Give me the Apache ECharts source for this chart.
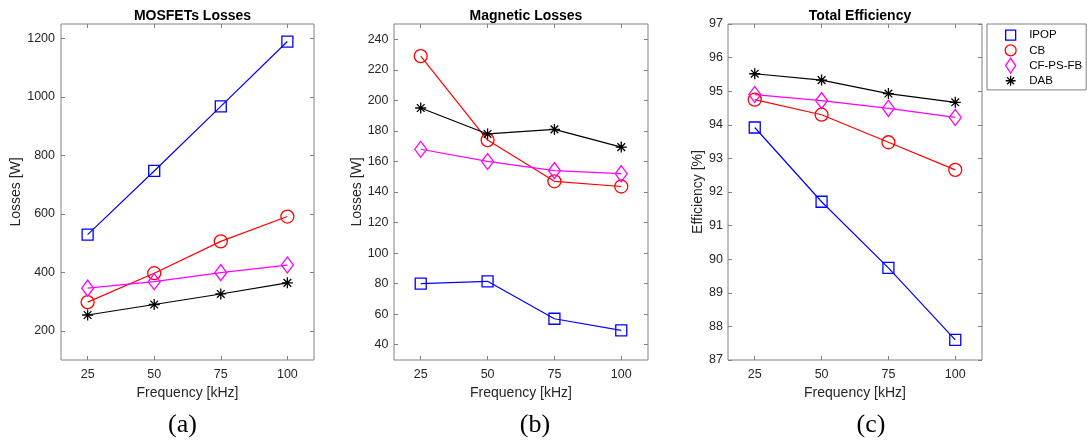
<!DOCTYPE html>
<html>
<head>
<meta charset="utf-8">
<script src="https://cdn.jsdelivr.net/npm/echarts@6/dist/echarts.min.js"></script>
<style>
html, body { margin: 0; padding: 0; background: #fff; }
#main { width: 1092px; height: 444px; }
</style>
</head>
<body>
<div id="main"></div>
<script>
// data
var freq = [25, 50, 75, 100];
var names = ['IPOP', 'CB', 'CF-PS-FB', 'DAB'];

var mosIPOP = [529, 747, 968, 1190];
var mosCB   = [298, 397, 506, 591];
var mosCF   = [346, 368, 399, 425];
var mosDAB  = [254, 290, 326, 364];

var magIPOP = [80, 81.5, 57, 49.4];
var magCB   = [229, 174, 147, 143.6];
var magCF   = [168, 160, 154, 152];
var magDAB  = [195, 178, 181, 169.4];

var effIPOP = [93.92, 91.71, 89.74, 87.6];
var effCB   = [94.75, 94.3, 93.48, 92.66];
var effCF   = [94.9, 94.72, 94.49, 94.22];
var effDAB  = [95.52, 95.33, 94.93, 94.67];

var xTicks = [25, 50, 75, 100];
var mosTicks = [200, 400, 600, 800, 1000, 1200];
var magTicks = [40, 60, 80, 100, 120, 140, 160, 180, 200, 220, 240];
var effTicks = [87, 88, 89, 90, 91, 92, 93, 94, 95, 96, 97];

var font = 'Liberation Sans, Arial, sans-serif';
var txt = '#262626';
var boxCol = '#808080';
var colors = ['#0000ff', '#ff0000', '#ff00ff', '#000000'];

var star = 'path://M5,0L5,10M0,5L10,5M1.5,1.5L8.5,8.5M1.5,8.5L8.5,1.5';
var symbols = ['rect', 'circle', 'diamond', star];
var symSizes = [11, 13, [12, 16], 11];

// legend icons (padded to 15x15 box)
var legIcons = [
	'path://M0,0M15,15M2.5,2.5L12.5,2.5L12.5,12.5L2.5,12.5Z',
	'path://M0,0M15,15M2,7.5A5.5,5.5,0,1,1,13,7.5A5.5,5.5,0,1,1,2,7.5Z',
	'path://M0,0M15,15M7.5,0L12.5,7.5L7.5,15L2.5,7.5Z',
	'path://M0,0M15,15M7.5,2.5L7.5,12.5M2.5,7.5L12.5,7.5M4,4L11,11M4,11L11,4'
];

var grids = [
	{left: 61, top: 24, width: 253, height: 336},
	{left: 394, top: 24, width: 254, height: 336},
	{left: 728, top: 24, width: 254, height: 336}
];
var yRanges = [[100, 1250], [30, 250], [87, 97]];
var yTickSets = [mosTicks, magTicks, effTicks];
var yNames = ['Losses [W]', 'Losses [W]', 'Efficiency [%]'];
var yNameGaps = [34, 29.5, 21.5];
var yLabelMargins = [6, 5.5, 5];
var titles = ['MOSFETs Losses', 'Magnetic Losses', 'Total Efficiency'];
var subLabels = [['(a)', 182.5], ['(b)', 535], ['(c)', 871]];
var panelData = [
	[mosIPOP, mosCB, mosCF, mosDAB],
	[magIPOP, magCB, magCF, magDAB],
	[effIPOP, effCB, effCF, effDAB]
];

var xAxes = [], yAxes = [], series = [], titleList = [], graphics = [];
var plain = function (v) { return String(v); };

for (var g = 0; g < 3; g++) {
	var gr = grids[g];
	titleList.push({
		text: titles[g],
		left: gr.left + gr.width / 2,
		top: 4,
		textAlign: 'center',
		textStyle: {fontFamily: font, fontSize: 14, fontWeight: 'bold', color: '#000'}
	});
	// bottom axis
	xAxes.push({
		type: 'value', gridIndex: g, position: 'bottom', min: 15, max: 110,
		name: 'Frequency [kHz]', nameLocation: 'middle', nameGap: 26,
		nameTextStyle: {fontFamily: font, fontSize: 14, color: txt},
		axisLine: {show: false},
		axisTick: {show: true, inside: true, length: 4, customValues: xTicks, lineStyle: {color: boxCol}},
		axisLabel: {customValues: xTicks, formatter: plain, margin: 8, fontFamily: font, fontSize: 12.5, color: txt},
		splitLine: {show: false}
	});
	// top axis (ticks only)
	xAxes.push({
		type: 'value', gridIndex: g, position: 'top', min: 15, max: 110,
		axisLine: {show: false},
		axisTick: {show: true, inside: true, length: 4, customValues: xTicks, lineStyle: {color: boxCol}},
		axisLabel: {show: false},
		splitLine: {show: false}
	});
	yAxes.push({
		type: 'value', gridIndex: g, position: 'left', min: yRanges[g][0], max: yRanges[g][1],
		name: yNames[g], nameLocation: 'middle', nameGap: yNameGaps[g],
		nameTextStyle: {fontFamily: font, fontSize: 14, color: txt},
		axisLine: {show: false},
		axisTick: {show: true, inside: true, length: 4, customValues: yTickSets[g], lineStyle: {color: boxCol}},
		axisLabel: {customValues: yTickSets[g], formatter: plain, margin: yLabelMargins[g], fontFamily: font, fontSize: 12.5, color: txt},
		splitLine: {show: false}
	});
	yAxes.push({
		type: 'value', gridIndex: g, position: 'right', min: yRanges[g][0], max: yRanges[g][1],
		axisLine: {show: false},
		axisTick: {show: true, inside: true, length: 4, customValues: yTickSets[g], lineStyle: {color: boxCol}},
		axisLabel: {show: false},
		splitLine: {show: false}
	});
	for (var s = 0; s < 4; s++) {
		var vals = panelData[g][s];
		series.push({
			name: names[s],
			type: 'line',
			xAxisIndex: 2 * g,
			yAxisIndex: 2 * g,
			data: freq.map(function (f, i) { return [f, vals[i]]; }),
			symbol: symbols[s],
			symbolSize: symSizes[s],
			showAllSymbol: true,
			animation: false,
			lineStyle: {color: colors[s], width: 1.2},
			itemStyle: {color: 'transparent', borderColor: colors[s], borderWidth: 1.3}
		});
	}
	graphics.push({
		type: 'text',
		x: subLabels[g][1],
		y: 425,
		style: {
			text: subLabels[g][0],
			fontFamily: 'Liberation Serif, Times New Roman, serif',
			fontSize: 26,
			fill: '#000',
			textAlign: 'center',
			textVerticalAlign: 'middle'
		}
	});
}

var myChart = echarts.init(document.getElementById('main'));
var option = {
	backgroundColor: '#fff',
	animation: false,
	title: titleList,
	grid: grids.map(function (gr) {
		return {left: gr.left, top: gr.top, width: gr.width, height: gr.height,
			show: true, borderColor: boxCol, borderWidth: 1, backgroundColor: 'transparent'};
	}),
	legend: {
		orient: 'vertical',
		left: 987,
		top: 24,
		padding: [3, 4, 1, 15.5],
		itemWidth: 27,
		itemHeight: 15,
		itemGap: -1.1,
		selectedMode: false,
		backgroundColor: '#fff',
		borderColor: boxCol,
		borderWidth: 1,
		textStyle: {fontFamily: font, fontSize: 11.5, color: '#000'},
		data: names.map(function (n, i) {
			return {name: n, icon: legIcons[i],
				itemStyle: {color: 'transparent', borderColor: colors[i], borderWidth: 1.3}};
		})
	},
	xAxis: xAxes,
	yAxis: yAxes,
	series: series,
	graphic: graphics
};
myChart.setOption(option);
</script>
</body>
</html>
